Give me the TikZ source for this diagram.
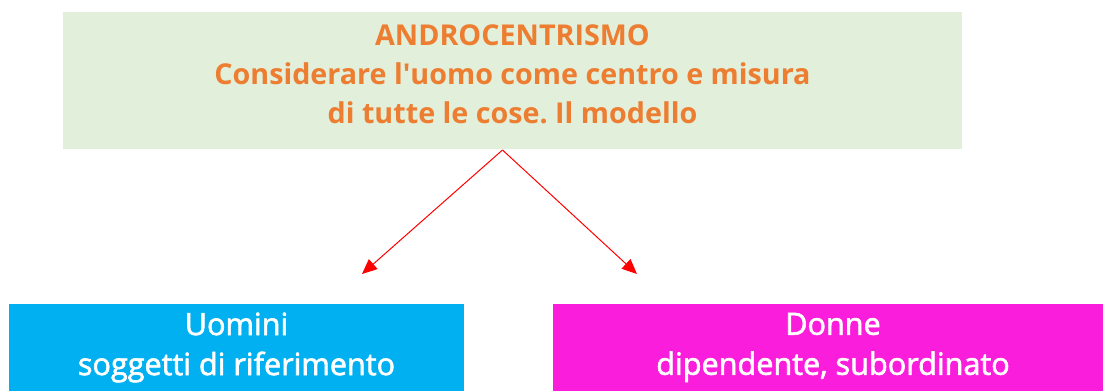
\documentclass[tikz,border=0pt]{standalone}
\usepackage{fontspec}
\setmainfont{Open Sans}
\newfontfamily\subfont[FakeBold=2]{Open Sans}
\usetikzlibrary{arrows.meta}
\definecolor{boxgreen}{HTML}{E2EFDA}
\definecolor{txtorange}{HTML}{ED7D31}
\definecolor{boxcyan}{HTML}{00B0F0}
\definecolor{boxmagenta}{HTML}{FA1EDC}
\definecolor{arrowred}{HTML}{FF0000}
\tikzset{
  topbox/.style={fill=boxgreen, draw=none, minimum width=899pt, minimum height=137pt, inner sep=0pt},
  toptext/.style={inner sep=0pt, align=center, text=txtorange, font=\fontsize{28.7}{39}\selectfont\bfseries},
  subbox/.style={draw=none, inner sep=0pt, align=center, text=white,
    font=\fontsize{30.6}{40}\selectfont\subfont},
  link/.style={draw=arrowred, line width=1pt, -{Triangle[length=15pt,width=13pt]}}
}
\begin{document}
\frenchspacing
\begin{tikzpicture}[x=1pt,y=1pt]
\useasboundingbox (0,0) rectangle (1103,-391);
\clip (0,0) rectangle (1103,-391);
\node[topbox] (top) at (512.5,-80.5) {};
\node[toptext] (toplabel) at (512.5,-74) {ANDROCENTRISMO\\Considerare l\textquotesingle uomo come centro e misura\\di tutte le cose. Il modello};
\node[subbox, fill=boxcyan, minimum width=455pt, minimum height=87pt] (men) at (236.5,-347.5) {Uomini\\soggetti di riferimento};
\node[subbox, fill=boxmagenta, minimum width=560pt, minimum height=87pt] (women) at (833,-347.5) {Donne\\dipendente, subordinato};
\coordinate (apex) at (502.5,-150);
\coordinate (tipL) at (362,-274);
\coordinate (tipR) at (637,-274);
\draw[link] (apex) -- (tipL);
\draw[link] (apex) -- (tipR);
\end{tikzpicture}
\end{document}
